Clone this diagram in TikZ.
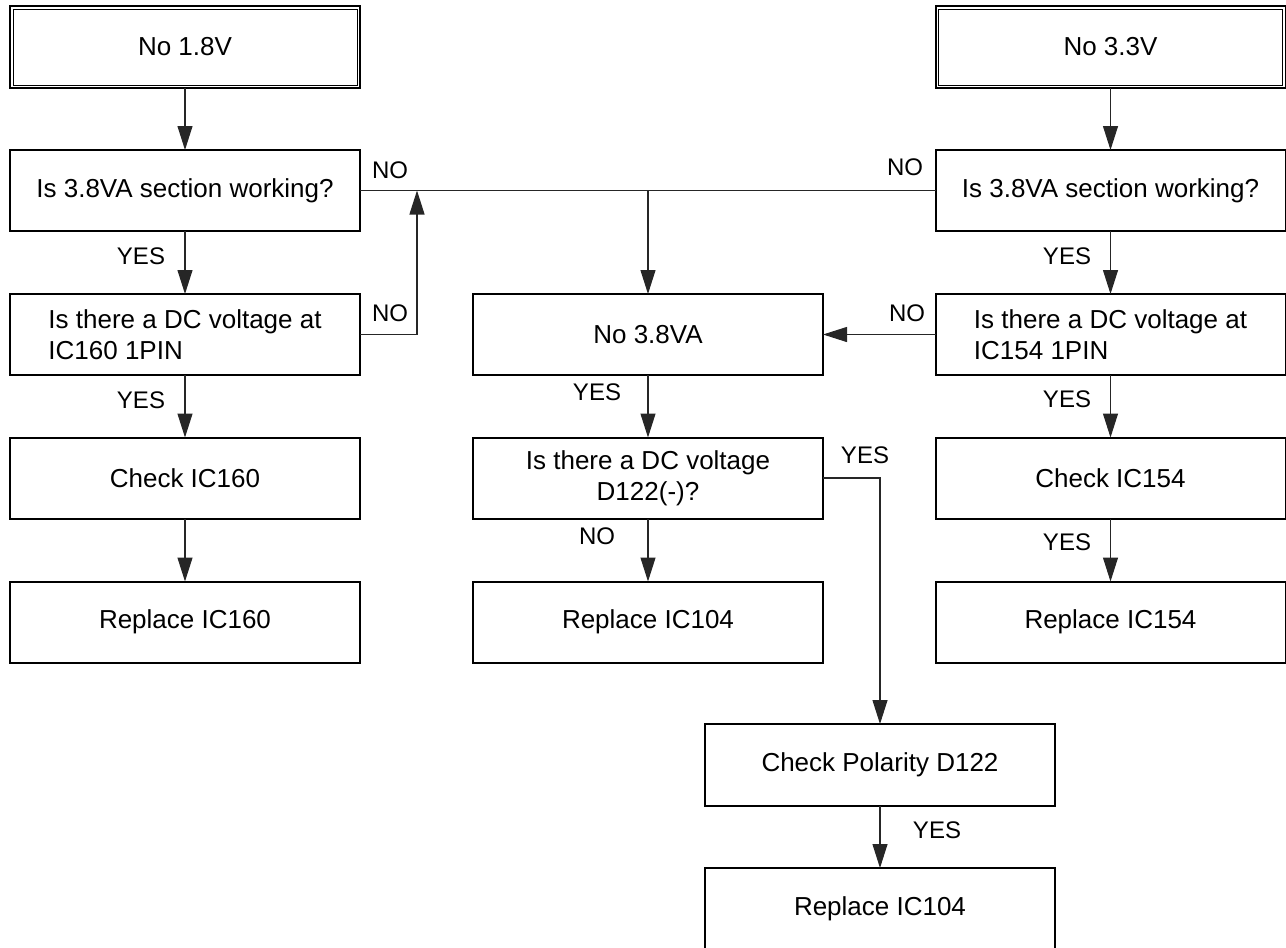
\documentclass[tikz,border=0pt]{standalone}
\usepackage{fontspec}
\setmainfont{Liberation Sans}
\usetikzlibrary{arrows.meta,calc}
\begin{document}
\begin{tikzpicture}[x=1pt,y=-1pt,
  box/.style={draw,line width=2pt,minimum width=350pt,minimum height=81pt,inner sep=0pt,outer sep=0pt,
    font=\fontsize{26}{31}\selectfont},
  lbl/.style={inner sep=0pt,font=\fontsize{24}{28}\selectfont},
  conn/.style={line width=1.1pt,draw=black!85},
  arr/.style={conn,-{Triangle[length=24pt,width=15pt]}}]
\useasboundingbox (0,0) rectangle (1286,948);
% left column
\node[box,minimum height=82pt] (n18) at (185,47) {No 1.8V};
\draw[line width=1pt] ([xshift=3pt,yshift=-3pt]n18.north west) rectangle ([xshift=-3pt,yshift=3pt]n18.south east);
\node[box] (q1L) at (185,190.5) {Is 3.8VA section working?};
\node[box,align=left] (dcL) at (185,334.5) {Is there a DC voltage at\\IC160 1PIN};
\node[box] (chkL) at (185,478) {Check IC160};
\node[box] (repL) at (185,622) {Replace IC160};
% right column
\node[box,minimum height=82pt] (n33) at (1110.5,47) {No 3.3V};
\draw[line width=1pt] ([xshift=3pt,yshift=-3pt]n33.north west) rectangle ([xshift=-3pt,yshift=3pt]n33.south east);
\node[box] (q1R) at (1110.5,190.5) {Is 3.8VA section working?};
\node[box,align=left] (dcR) at (1110.5,334.5) {Is there a DC voltage at\\IC154 1PIN};
\node[box] (chkR) at (1110.5,478) {Check IC154};
\node[box] (repR) at (1110.5,622) {Replace IC154};
% middle column
\node[box] (n38) at (648,334.5) {No 3.8VA};
\node[box,align=center] (dcD) at (648,478) {Is there a DC voltage\\D122(-)?};
\node[box] (rep104) at (648,622) {Replace IC104};
\node[box,minimum height=82pt] (chkP) at (880,765) {Check Polarity D122};
\node[box,minimum height=82pt] (rep104b) at (880,909) {Replace IC104};
% connectors
\coordinate (jm) at (648,190.5);
\coordinate (jl) at (417,190.5);
\draw[arr] (n18.south) -- (q1L.north);
\draw[arr] (n33.south) -- (q1R.north);
\draw[conn] (q1L.east) -- (q1R.west);
\draw[arr] (jm) -- (n38.north);
\draw[arr] (dcL.east) -| (jl);
\draw[arr] (dcR.west) -- (n38.east);
\draw[arr] (q1L.south) -- (dcL.north);
\draw[arr] (dcL.south) -- (chkL.north);
\draw[arr] (chkL.south) -- (repL.north);
\draw[arr] (q1R.south) -- (dcR.north);
\draw[arr] (dcR.south) -- (chkR.north);
\draw[arr] (chkR.south) -- (repR.north);
\draw[arr] (n38.south) -- (dcD.north);
\draw[arr] (dcD.south) -- (rep104.north);
\draw[arr] (dcD.east) -| (chkP.north);
\draw[arr] (chkP.south) -- (rep104b.north);
% labels
\node[lbl] (l1) at (390,170) {NO};
\node[lbl] (l2) at (390,313) {NO};
\node[lbl] (l3) at (905,167) {NO};
\node[lbl] (l4) at (907,313) {NO};
\node[lbl] (l5) at (141,256) {YES};
\node[lbl] (l6) at (141,400) {YES};
\node[lbl] (l7) at (1067,256) {YES};
\node[lbl] (l8) at (1067,399) {YES};
\node[lbl] (l9) at (1067,542) {YES};
\node[lbl] (l10) at (597,392) {YES};
\node[lbl] (l11) at (597,536) {NO};
\node[lbl] (l12) at (865,455) {YES};
\node[lbl] (l13) at (937,830) {YES};
\end{tikzpicture}
\end{document}
